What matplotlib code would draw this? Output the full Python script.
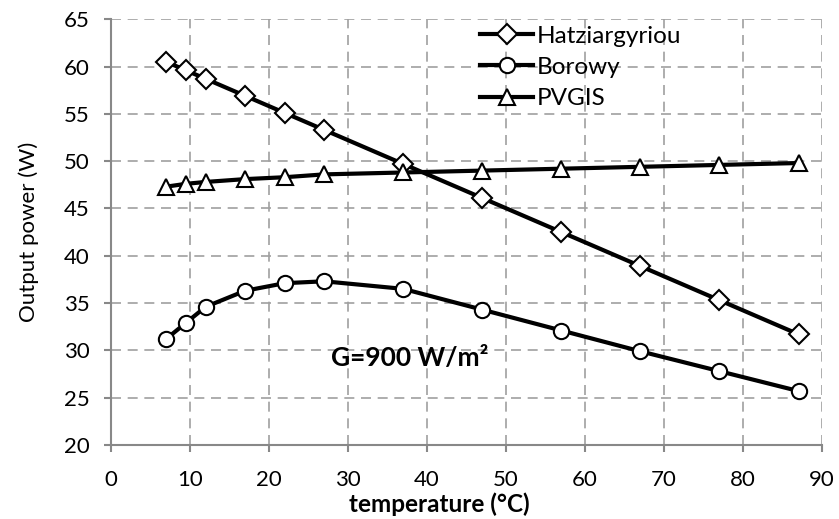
import matplotlib.pyplot as plt

temperature = [7, 9.5, 12, 17, 22, 27, 37, 47, 57, 67, 77, 87]
hatziargyriou = [60.5, 59.6, 58.7, 56.9, 55.1, 53.3, 49.7, 46.1, 42.5, 38.9, 35.3, 31.7]
borowy = [31.2, 32.9, 34.6, 36.3, 37.1, 37.3, 36.5, 34.3, 32.1, 29.9, 27.8, 25.7]
pvgis = [47.3, 47.6, 47.8, 48.1, 48.3, 48.6, 48.8, 49.0, 49.2, 49.4, 49.6, 49.8]

plt.rcParams['font.family'] = ['Lato', 'DejaVu Sans']

fig = plt.figure(figsize=(8.39, 5.19), dpi=100)
ax = fig.add_axes([0.132, 0.1426, 0.848, 0.8204])

style = dict(color='black', lw=3, markerfacecolor='white', markeredgecolor='black',
             markeredgewidth=1.5, clip_on=False)
ax.plot(temperature, hatziargyriou, marker='D', markersize=10, label='Hatziargyriou', **style)
ax.plot(temperature, borowy, marker='o', markersize=11, label='Borowy', **style)
ax.plot(temperature, pvgis, marker='^', markersize=12, label='PVGIS', **style)

ax.set_xlim(0, 90)
ax.set_ylim(20, 65)
ax.set_xticks(range(0, 91, 10))
ax.set_yticks(range(20, 66, 5))
ax.grid(True, color='#a0a0a0', linestyle=(0, (6, 4)), lw=1.2)
ax.set_axisbelow(True)
for s in ['top', 'right']:
    ax.spines[s].set_visible(False)
for s in ['left', 'bottom']:
    ax.spines[s].set_color('#888888')
    ax.spines[s].set_linewidth(1.5)
ax.tick_params(direction='out', length=5, width=1.5, color='#888888', labelsize=16)
ax.tick_params(axis='y', pad=10)
ax.tick_params(axis='x', pad=13)

ax.set_ylabel('Output power (W)', fontsize=16, labelpad=18)
fig.text(0.524, 0.028, 'temperature (°C)', fontsize=17.5, fontweight='bold',
         ha='center', va='center')

ax.text(37.8, 29.2, 'G=900 W/m²', fontsize=19, fontweight='bold', ha='center', va='center')

leg = ax.legend(loc='upper left', bbox_to_anchor=(0.519, 0.985), frameon=False, fontsize=17.5,
                handlelength=2.2, handletextpad=0.15, labelspacing=0.42, borderaxespad=0,
                borderpad=0)

fig.savefig('out.png', dpi=100)
